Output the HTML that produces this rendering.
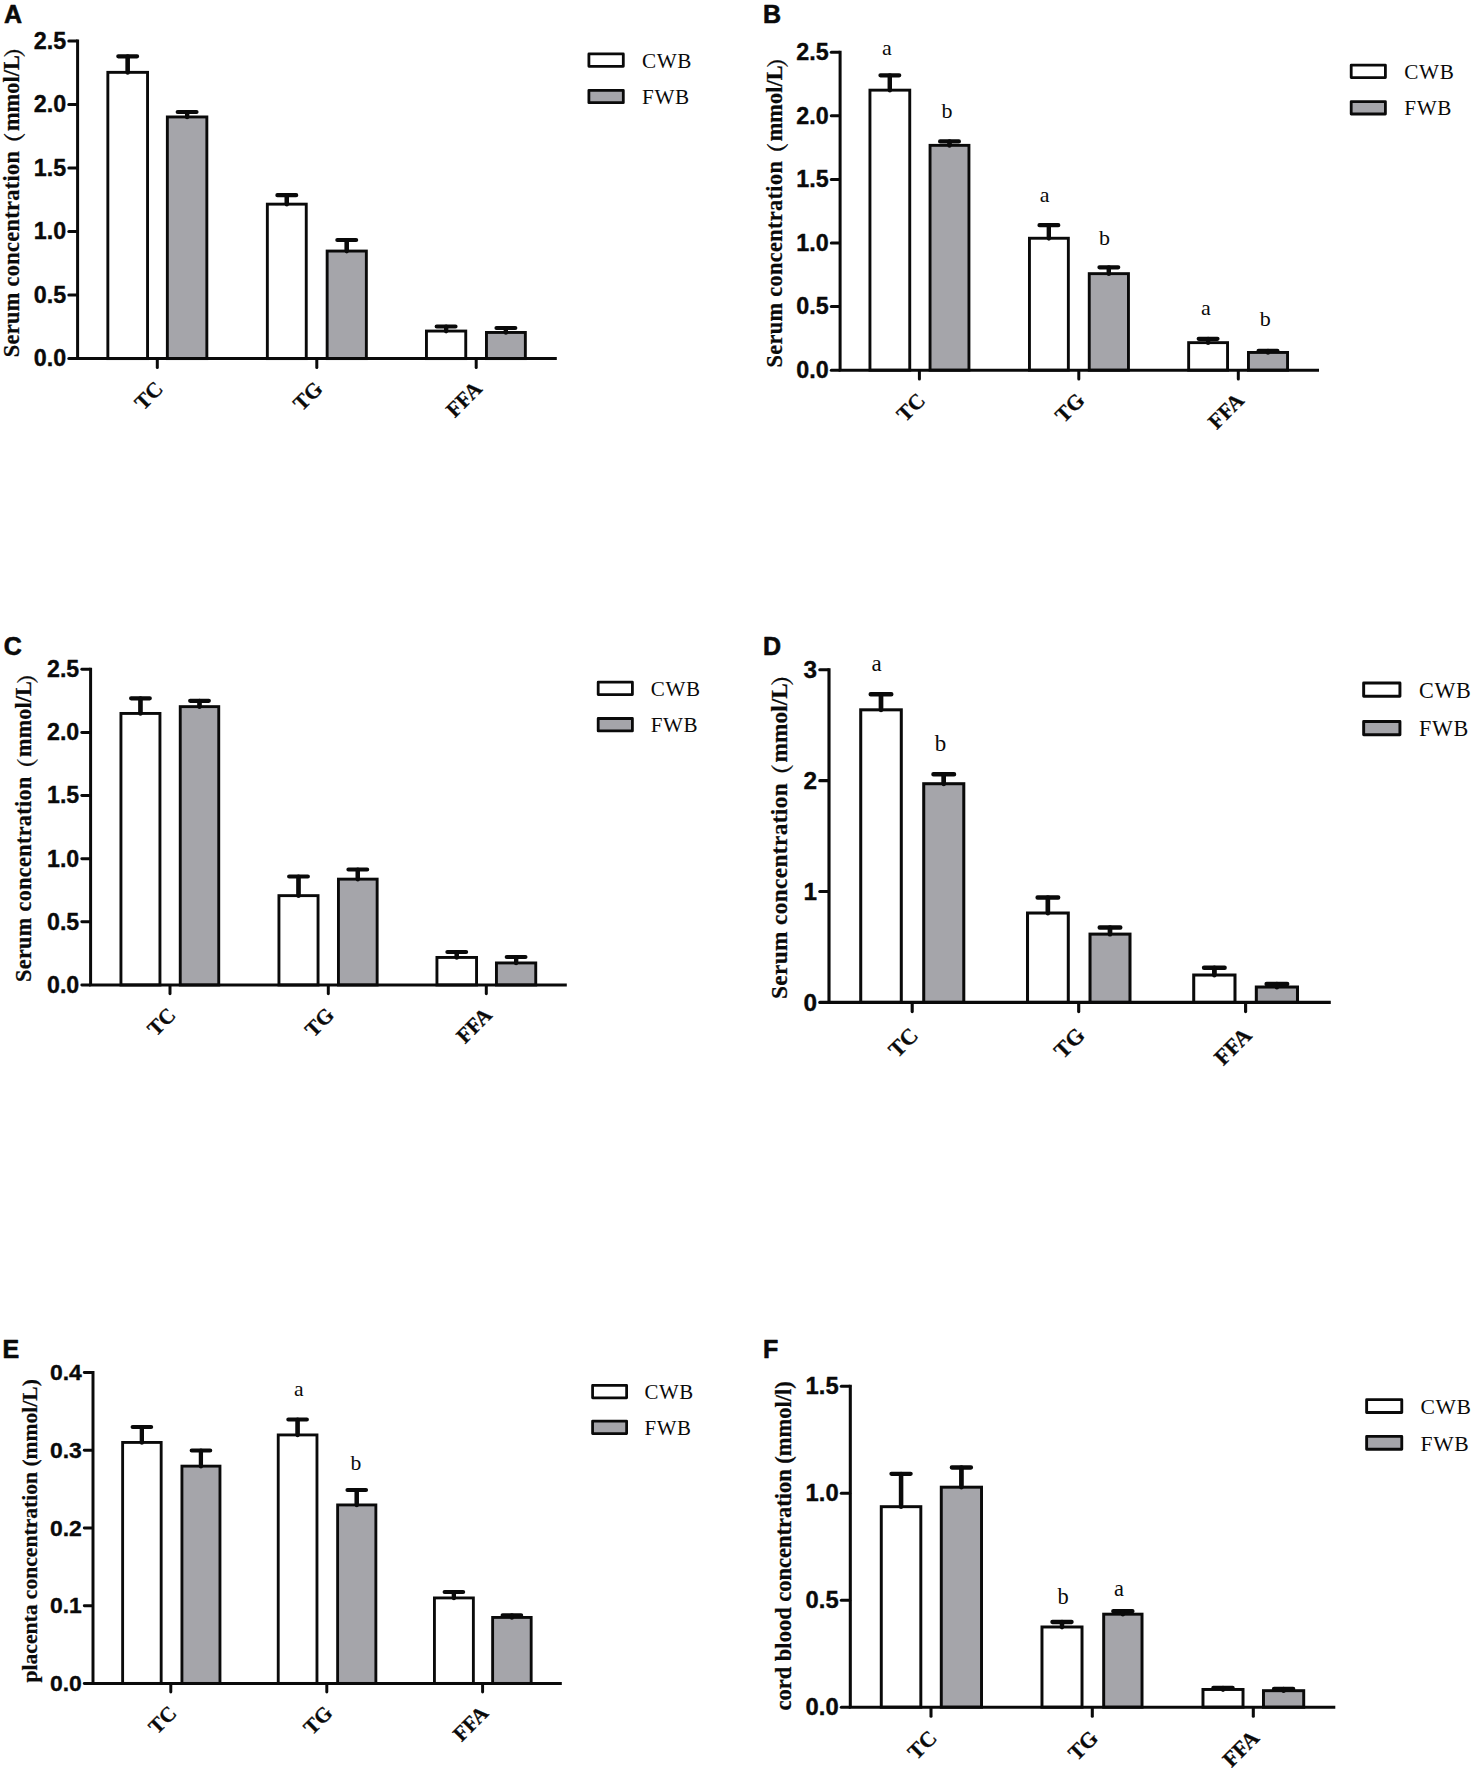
<!DOCTYPE html>
<html lang="en"><head><meta charset="utf-8"><title>Serum, placenta and cord blood lipid concentrations</title>
<style>html,body{margin:0;padding:0;background:#fff}body{width:1472px;height:1772px;overflow:hidden}svg{display:block}text{white-space:pre}</style>
</head><body>
<svg width="1472" height="1772" viewBox="0 0 1472 1772">
<rect x="0" y="0" width="1472" height="1772" fill="#ffffff"/>
<g>
<text x="4.1" y="22.8" font-family='"Liberation Sans", sans-serif' font-weight="700" font-size="25" fill="#0a0a0a" stroke="#0a0a0a" stroke-width="0.6" stroke-linejoin="round">A</text>
<path d="M127.7 70.9 V56.3 M118.3 56.3 H137.1" fill="none" stroke="#0a0a0a" stroke-width="4.2" stroke-linecap="round"/>
<rect x="107.85" y="72.35" width="39.7" height="286.25" fill="#ffffff" stroke="#0a0a0a" stroke-width="2.9"/>
<path d="M127.7 56.3 V72.64" fill="none" stroke="#0a0a0a" stroke-width="4.2" stroke-linecap="round"/>
<path d="M187.1 115.5 V112 M177.7 112 H196.5" fill="none" stroke="#0a0a0a" stroke-width="4.2" stroke-linecap="round"/>
<rect x="167.35" y="116.95" width="39.5" height="241.65" fill="#a5a5aa" stroke="#0a0a0a" stroke-width="2.9"/>
<path d="M187.1 112 V117.24" fill="none" stroke="#0a0a0a" stroke-width="4.2" stroke-linecap="round"/>
<path d="M286.8 202.7 V195.2 M277.4 195.2 H296.2" fill="none" stroke="#0a0a0a" stroke-width="4.2" stroke-linecap="round"/>
<rect x="267.35" y="204.15" width="38.9" height="154.45" fill="#ffffff" stroke="#0a0a0a" stroke-width="2.9"/>
<path d="M286.8 195.2 V204.44" fill="none" stroke="#0a0a0a" stroke-width="4.2" stroke-linecap="round"/>
<path d="M346.75 249.6 V240 M337.35 240 H356.15" fill="none" stroke="#0a0a0a" stroke-width="4.2" stroke-linecap="round"/>
<rect x="327.15" y="251.05" width="39.2" height="107.55" fill="#a5a5aa" stroke="#0a0a0a" stroke-width="2.9"/>
<path d="M346.75 240 V251.34" fill="none" stroke="#0a0a0a" stroke-width="4.2" stroke-linecap="round"/>
<path d="M446.1 329.6 V326.5 M436.7 326.5 H455.5" fill="none" stroke="#0a0a0a" stroke-width="4.2" stroke-linecap="round"/>
<rect x="426.45" y="331.05" width="39.3" height="27.55" fill="#ffffff" stroke="#0a0a0a" stroke-width="2.9"/>
<path d="M446.1 326.5 V331.34" fill="none" stroke="#0a0a0a" stroke-width="4.2" stroke-linecap="round"/>
<path d="M505.9 331 V328 M496.5 328 H515.3" fill="none" stroke="#0a0a0a" stroke-width="4.2" stroke-linecap="round"/>
<rect x="486.45" y="332.45" width="38.9" height="26.15" fill="#a5a5aa" stroke="#0a0a0a" stroke-width="2.9"/>
<path d="M505.9 328 V332.74" fill="none" stroke="#0a0a0a" stroke-width="4.2" stroke-linecap="round"/>
<path d="M77.6 39.5 V358.6 H556.8" fill="none" stroke="#0a0a0a" stroke-width="3" stroke-linejoin="miter" stroke-linecap="butt"/>
<path d="M68.8 41 H77" stroke="#0a0a0a" stroke-width="3" stroke-linecap="round"/>
<text x="66.2" y="48.89" text-anchor="end" font-family='"Liberation Sans", sans-serif' font-weight="700" font-size="23.3" fill="#0a0a0a" stroke="#0a0a0a" stroke-width="0.35" stroke-linejoin="round">2.5</text>
<path d="M68.8 104.52 H77" stroke="#0a0a0a" stroke-width="3" stroke-linecap="round"/>
<text x="66.2" y="112.41" text-anchor="end" font-family='"Liberation Sans", sans-serif' font-weight="700" font-size="23.3" fill="#0a0a0a" stroke="#0a0a0a" stroke-width="0.35" stroke-linejoin="round">2.0</text>
<path d="M68.8 168.04 H77" stroke="#0a0a0a" stroke-width="3" stroke-linecap="round"/>
<text x="66.2" y="175.93" text-anchor="end" font-family='"Liberation Sans", sans-serif' font-weight="700" font-size="23.3" fill="#0a0a0a" stroke="#0a0a0a" stroke-width="0.35" stroke-linejoin="round">1.5</text>
<path d="M68.8 231.56 H77" stroke="#0a0a0a" stroke-width="3" stroke-linecap="round"/>
<text x="66.2" y="239.45" text-anchor="end" font-family='"Liberation Sans", sans-serif' font-weight="700" font-size="23.3" fill="#0a0a0a" stroke="#0a0a0a" stroke-width="0.35" stroke-linejoin="round">1.0</text>
<path d="M68.8 295.08 H77" stroke="#0a0a0a" stroke-width="3" stroke-linecap="round"/>
<text x="66.2" y="302.97" text-anchor="end" font-family='"Liberation Sans", sans-serif' font-weight="700" font-size="23.3" fill="#0a0a0a" stroke="#0a0a0a" stroke-width="0.35" stroke-linejoin="round">0.5</text>
<path d="M68.8 358.6 H77" stroke="#0a0a0a" stroke-width="3" stroke-linecap="round"/>
<text x="66.2" y="366.49" text-anchor="end" font-family='"Liberation Sans", sans-serif' font-weight="700" font-size="23.3" fill="#0a0a0a" stroke="#0a0a0a" stroke-width="0.35" stroke-linejoin="round">0.0</text>
<path d="M157.3 359.2 V367.4" stroke="#0a0a0a" stroke-width="3" stroke-linecap="round"/>
<text transform="translate(164.3 390.1) rotate(-45)" text-anchor="end" font-family='"Liberation Serif", "Noto Serif CJK SC", serif' font-weight="700" font-size="21.5" fill="#0a0a0a" stroke="#0a0a0a" stroke-width="0.3" stroke-linejoin="round">TC</text>
<path d="M316.8 359.2 V367.4" stroke="#0a0a0a" stroke-width="3" stroke-linecap="round"/>
<text transform="translate(323.8 390.1) rotate(-45)" text-anchor="end" font-family='"Liberation Serif", "Noto Serif CJK SC", serif' font-weight="700" font-size="21.5" fill="#0a0a0a" stroke="#0a0a0a" stroke-width="0.3" stroke-linejoin="round">TG</text>
<path d="M476.2 359.2 V367.4" stroke="#0a0a0a" stroke-width="3" stroke-linecap="round"/>
<text transform="translate(483.2 390.1) rotate(-45)" text-anchor="end" font-family='"Liberation Serif", "Noto Serif CJK SC", serif' font-weight="700" font-size="21.5" fill="#0a0a0a" stroke="#0a0a0a" stroke-width="0.3" stroke-linejoin="round">FFA</text>
<text transform="translate(18.5 357.3) rotate(-90)" letter-spacing="0.35" font-family='"Liberation Serif", "Noto Serif CJK SC", serif' font-weight="700" font-size="22.3" fill="#0a0a0a" stroke="#0a0a0a" stroke-width="0.25" stroke-linejoin="round">Serum concentration<tspan font-family='"Liberation Serif", "Noto Serif CJK SC", serif' font-size="22" letter-spacing="0" dx="-3.8" dy="3.5">（</tspan><tspan letter-spacing="0.1" dx="1.3" dy="-3.5">mmol/L</tspan><tspan font-family='"Liberation Serif", "Noto Serif CJK SC", serif' font-size="22" letter-spacing="0" dx="-2.8" dy="3.5">）</tspan></text>
<rect x="588.9" y="53.9" width="34.4" height="12.4" fill="#ffffff" stroke="#0a0a0a" stroke-width="2.8" stroke-linejoin="round"/>
<text x="642" y="67.7" letter-spacing="0.6" font-family='"Liberation Serif", "Noto Serif CJK SC", serif' font-size="21.2" fill="#0a0a0a">CWB</text>
<rect x="588.9" y="90.3" width="34.4" height="12.4" fill="#a5a5aa" stroke="#0a0a0a" stroke-width="2.8" stroke-linejoin="round"/>
<text x="642" y="104.1" letter-spacing="0.6" font-family='"Liberation Serif", "Noto Serif CJK SC", serif' font-size="21.2" fill="#0a0a0a">FWB</text>
</g>
<g>
<text x="763" y="22.8" font-family='"Liberation Sans", sans-serif' font-weight="700" font-size="25" fill="#0a0a0a" stroke="#0a0a0a" stroke-width="0.6" stroke-linejoin="round">B</text>
<path d="M889.85 88.7 V75.3 M880.45 75.3 H899.25" fill="none" stroke="#0a0a0a" stroke-width="4.2" stroke-linecap="round"/>
<rect x="869.95" y="90.15" width="39.8" height="280.05" fill="#ffffff" stroke="#0a0a0a" stroke-width="2.9"/>
<path d="M889.85 75.3 V90.44" fill="none" stroke="#0a0a0a" stroke-width="4.2" stroke-linecap="round"/>
<path d="M949.5 143.9 V141.4 M940.1 141.4 H958.9" fill="none" stroke="#0a0a0a" stroke-width="4.2" stroke-linecap="round"/>
<rect x="930.05" y="145.35" width="38.9" height="224.85" fill="#a5a5aa" stroke="#0a0a0a" stroke-width="2.9"/>
<path d="M949.5 141.4 V145.64" fill="none" stroke="#0a0a0a" stroke-width="4.2" stroke-linecap="round"/>
<path d="M1048.9 236.8 V225.2 M1039.5 225.2 H1058.3" fill="none" stroke="#0a0a0a" stroke-width="4.2" stroke-linecap="round"/>
<rect x="1029.45" y="238.25" width="38.9" height="131.95" fill="#ffffff" stroke="#0a0a0a" stroke-width="2.9"/>
<path d="M1048.9 225.2 V238.54" fill="none" stroke="#0a0a0a" stroke-width="4.2" stroke-linecap="round"/>
<path d="M1108.85 272.2 V267.3 M1099.45 267.3 H1118.25" fill="none" stroke="#0a0a0a" stroke-width="4.2" stroke-linecap="round"/>
<rect x="1089.25" y="273.65" width="39.2" height="96.55" fill="#a5a5aa" stroke="#0a0a0a" stroke-width="2.9"/>
<path d="M1108.85 267.3 V273.94" fill="none" stroke="#0a0a0a" stroke-width="4.2" stroke-linecap="round"/>
<path d="M1208.1 341.2 V338.8 M1198.7 338.8 H1217.5" fill="none" stroke="#0a0a0a" stroke-width="4.2" stroke-linecap="round"/>
<rect x="1188.65" y="342.65" width="38.9" height="27.55" fill="#ffffff" stroke="#0a0a0a" stroke-width="2.9"/>
<path d="M1208.1 338.8 V342.94" fill="none" stroke="#0a0a0a" stroke-width="4.2" stroke-linecap="round"/>
<path d="M1268 351 V350.8 M1258.6 350.8 H1277.4" fill="none" stroke="#0a0a0a" stroke-width="4.2" stroke-linecap="round"/>
<rect x="1248.45" y="352.45" width="39.1" height="17.75" fill="#a5a5aa" stroke="#0a0a0a" stroke-width="2.9"/>
<path d="M1268 350.8 V352.74" fill="none" stroke="#0a0a0a" stroke-width="4.2" stroke-linecap="round"/>
<path d="M840.1 50.7 V370.2 H1319" fill="none" stroke="#0a0a0a" stroke-width="3" stroke-linejoin="miter" stroke-linecap="butt"/>
<path d="M831.3 52.2 H839.5" stroke="#0a0a0a" stroke-width="3" stroke-linecap="round"/>
<text x="828.7" y="60.09" text-anchor="end" font-family='"Liberation Sans", sans-serif' font-weight="700" font-size="23.3" fill="#0a0a0a" stroke="#0a0a0a" stroke-width="0.35" stroke-linejoin="round">2.5</text>
<path d="M831.3 115.8 H839.5" stroke="#0a0a0a" stroke-width="3" stroke-linecap="round"/>
<text x="828.7" y="123.69" text-anchor="end" font-family='"Liberation Sans", sans-serif' font-weight="700" font-size="23.3" fill="#0a0a0a" stroke="#0a0a0a" stroke-width="0.35" stroke-linejoin="round">2.0</text>
<path d="M831.3 179.4 H839.5" stroke="#0a0a0a" stroke-width="3" stroke-linecap="round"/>
<text x="828.7" y="187.29" text-anchor="end" font-family='"Liberation Sans", sans-serif' font-weight="700" font-size="23.3" fill="#0a0a0a" stroke="#0a0a0a" stroke-width="0.35" stroke-linejoin="round">1.5</text>
<path d="M831.3 243 H839.5" stroke="#0a0a0a" stroke-width="3" stroke-linecap="round"/>
<text x="828.7" y="250.89" text-anchor="end" font-family='"Liberation Sans", sans-serif' font-weight="700" font-size="23.3" fill="#0a0a0a" stroke="#0a0a0a" stroke-width="0.35" stroke-linejoin="round">1.0</text>
<path d="M831.3 306.6 H839.5" stroke="#0a0a0a" stroke-width="3" stroke-linecap="round"/>
<text x="828.7" y="314.49" text-anchor="end" font-family='"Liberation Sans", sans-serif' font-weight="700" font-size="23.3" fill="#0a0a0a" stroke="#0a0a0a" stroke-width="0.35" stroke-linejoin="round">0.5</text>
<path d="M831.3 370.2 H839.5" stroke="#0a0a0a" stroke-width="3" stroke-linecap="round"/>
<text x="828.7" y="378.09" text-anchor="end" font-family='"Liberation Sans", sans-serif' font-weight="700" font-size="23.3" fill="#0a0a0a" stroke="#0a0a0a" stroke-width="0.35" stroke-linejoin="round">0.0</text>
<path d="M919.4 370.8 V379" stroke="#0a0a0a" stroke-width="3" stroke-linecap="round"/>
<text transform="translate(926.4 401.7) rotate(-45)" text-anchor="end" font-family='"Liberation Serif", "Noto Serif CJK SC", serif' font-weight="700" font-size="21.5" fill="#0a0a0a" stroke="#0a0a0a" stroke-width="0.3" stroke-linejoin="round">TC</text>
<path d="M1078.8 370.8 V379" stroke="#0a0a0a" stroke-width="3" stroke-linecap="round"/>
<text transform="translate(1085.8 401.7) rotate(-45)" text-anchor="end" font-family='"Liberation Serif", "Noto Serif CJK SC", serif' font-weight="700" font-size="21.5" fill="#0a0a0a" stroke="#0a0a0a" stroke-width="0.3" stroke-linejoin="round">TG</text>
<path d="M1238.3 370.8 V379" stroke="#0a0a0a" stroke-width="3" stroke-linecap="round"/>
<text transform="translate(1245.3 401.7) rotate(-45)" text-anchor="end" font-family='"Liberation Serif", "Noto Serif CJK SC", serif' font-weight="700" font-size="21.5" fill="#0a0a0a" stroke="#0a0a0a" stroke-width="0.3" stroke-linejoin="round">FFA</text>
<text transform="translate(781.5 367.5) rotate(-90)" letter-spacing="0.35" font-family='"Liberation Serif", "Noto Serif CJK SC", serif' font-weight="700" font-size="22.3" fill="#0a0a0a" stroke="#0a0a0a" stroke-width="0.25" stroke-linejoin="round">Serum concentration<tspan font-family='"Liberation Serif", "Noto Serif CJK SC", serif' font-size="22" letter-spacing="0" dx="-3.8" dy="3.5">（</tspan><tspan letter-spacing="0.1" dx="1.3" dy="-3.5">mmol/L</tspan><tspan font-family='"Liberation Serif", "Noto Serif CJK SC", serif' font-size="22" letter-spacing="0" dx="-2.8" dy="3.5">）</tspan></text>
<text x="886.9" y="54.8" text-anchor="middle" font-family='"Liberation Serif", "Noto Serif CJK SC", serif' font-size="22" fill="#0a0a0a">a</text>
<text x="947" y="118.3" text-anchor="middle" font-family='"Liberation Serif", "Noto Serif CJK SC", serif' font-size="22" fill="#0a0a0a">b</text>
<text x="1044.7" y="202" text-anchor="middle" font-family='"Liberation Serif", "Noto Serif CJK SC", serif' font-size="22" fill="#0a0a0a">a</text>
<text x="1104.4" y="245" text-anchor="middle" font-family='"Liberation Serif", "Noto Serif CJK SC", serif' font-size="22" fill="#0a0a0a">b</text>
<text x="1205.8" y="315" text-anchor="middle" font-family='"Liberation Serif", "Noto Serif CJK SC", serif' font-size="22" fill="#0a0a0a">a</text>
<text x="1265.3" y="325.8" text-anchor="middle" font-family='"Liberation Serif", "Noto Serif CJK SC", serif' font-size="22" fill="#0a0a0a">b</text>
<rect x="1351.2" y="65.2" width="34.2" height="12.4" fill="#ffffff" stroke="#0a0a0a" stroke-width="2.8" stroke-linejoin="round"/>
<text x="1404.3" y="79" letter-spacing="0.6" font-family='"Liberation Serif", "Noto Serif CJK SC", serif' font-size="21.2" fill="#0a0a0a">CWB</text>
<rect x="1351.2" y="101.6" width="34.2" height="12.4" fill="#a5a5aa" stroke="#0a0a0a" stroke-width="2.8" stroke-linejoin="round"/>
<text x="1404.3" y="115.4" letter-spacing="0.6" font-family='"Liberation Serif", "Noto Serif CJK SC", serif' font-size="21.2" fill="#0a0a0a">FWB</text>
</g>
<g>
<text x="3.8" y="655.3" font-family='"Liberation Sans", sans-serif' font-weight="700" font-size="25" fill="#0a0a0a" stroke="#0a0a0a" stroke-width="0.6" stroke-linejoin="round">C</text>
<path d="M140.45 712 V698.3 M131.1 698.3 H149.8" fill="none" stroke="#0a0a0a" stroke-width="4.18" stroke-linecap="round"/>
<rect x="120.94" y="713.44" width="39.01" height="271.56" fill="#ffffff" stroke="#0a0a0a" stroke-width="2.89"/>
<path d="M140.45 698.3 V713.73" fill="none" stroke="#0a0a0a" stroke-width="4.18" stroke-linecap="round"/>
<path d="M199.5 705.2 V700.8 M190.15 700.8 H208.85" fill="none" stroke="#0a0a0a" stroke-width="4.18" stroke-linecap="round"/>
<rect x="180.24" y="706.64" width="38.51" height="278.36" fill="#a5a5aa" stroke="#0a0a0a" stroke-width="2.89"/>
<path d="M199.5 700.8 V706.93" fill="none" stroke="#0a0a0a" stroke-width="4.18" stroke-linecap="round"/>
<path d="M298.5 894.2 V876.5 M289.15 876.5 H307.85" fill="none" stroke="#0a0a0a" stroke-width="4.18" stroke-linecap="round"/>
<rect x="278.94" y="895.64" width="39.11" height="89.36" fill="#ffffff" stroke="#0a0a0a" stroke-width="2.89"/>
<path d="M298.5 876.5 V895.93" fill="none" stroke="#0a0a0a" stroke-width="4.18" stroke-linecap="round"/>
<path d="M357.8 877.7 V869.5 M348.45 869.5 H367.15" fill="none" stroke="#0a0a0a" stroke-width="4.18" stroke-linecap="round"/>
<rect x="338.44" y="879.14" width="38.71" height="105.86" fill="#a5a5aa" stroke="#0a0a0a" stroke-width="2.89"/>
<path d="M357.8 869.5 V879.43" fill="none" stroke="#0a0a0a" stroke-width="4.18" stroke-linecap="round"/>
<path d="M456.75 956 V952 M447.4 952 H466.1" fill="none" stroke="#0a0a0a" stroke-width="4.18" stroke-linecap="round"/>
<rect x="436.94" y="957.44" width="39.61" height="27.56" fill="#ffffff" stroke="#0a0a0a" stroke-width="2.89"/>
<path d="M456.75 952 V957.73" fill="none" stroke="#0a0a0a" stroke-width="4.18" stroke-linecap="round"/>
<path d="M516.1 961.5 V957 M506.75 957 H525.45" fill="none" stroke="#0a0a0a" stroke-width="4.18" stroke-linecap="round"/>
<rect x="496.44" y="962.94" width="39.31" height="22.06" fill="#a5a5aa" stroke="#0a0a0a" stroke-width="2.89"/>
<path d="M516.1 957 V963.23" fill="none" stroke="#0a0a0a" stroke-width="4.18" stroke-linecap="round"/>
<path d="M90.6 667.81 V985 H566.8" fill="none" stroke="#0a0a0a" stroke-width="2.98" stroke-linejoin="miter" stroke-linecap="butt"/>
<path d="M81.84 669.3 H90" stroke="#0a0a0a" stroke-width="2.98" stroke-linecap="round"/>
<text x="79.26" y="677.15" text-anchor="end" font-family='"Liberation Sans", sans-serif' font-weight="700" font-size="23.18" fill="#0a0a0a" stroke="#0a0a0a" stroke-width="0.35" stroke-linejoin="round">2.5</text>
<path d="M81.84 732.44 H90" stroke="#0a0a0a" stroke-width="2.98" stroke-linecap="round"/>
<text x="79.26" y="740.29" text-anchor="end" font-family='"Liberation Sans", sans-serif' font-weight="700" font-size="23.18" fill="#0a0a0a" stroke="#0a0a0a" stroke-width="0.35" stroke-linejoin="round">2.0</text>
<path d="M81.84 795.58 H90" stroke="#0a0a0a" stroke-width="2.98" stroke-linecap="round"/>
<text x="79.26" y="803.43" text-anchor="end" font-family='"Liberation Sans", sans-serif' font-weight="700" font-size="23.18" fill="#0a0a0a" stroke="#0a0a0a" stroke-width="0.35" stroke-linejoin="round">1.5</text>
<path d="M81.84 858.72 H90" stroke="#0a0a0a" stroke-width="2.98" stroke-linecap="round"/>
<text x="79.26" y="866.57" text-anchor="end" font-family='"Liberation Sans", sans-serif' font-weight="700" font-size="23.18" fill="#0a0a0a" stroke="#0a0a0a" stroke-width="0.35" stroke-linejoin="round">1.0</text>
<path d="M81.84 921.86 H90" stroke="#0a0a0a" stroke-width="2.98" stroke-linecap="round"/>
<text x="79.26" y="929.71" text-anchor="end" font-family='"Liberation Sans", sans-serif' font-weight="700" font-size="23.18" fill="#0a0a0a" stroke="#0a0a0a" stroke-width="0.35" stroke-linejoin="round">0.5</text>
<path d="M81.84 985 H90" stroke="#0a0a0a" stroke-width="2.98" stroke-linecap="round"/>
<text x="79.26" y="992.85" text-anchor="end" font-family='"Liberation Sans", sans-serif' font-weight="700" font-size="23.18" fill="#0a0a0a" stroke="#0a0a0a" stroke-width="0.35" stroke-linejoin="round">0.0</text>
<path d="M170 985.6 V993.76" stroke="#0a0a0a" stroke-width="2.98" stroke-linecap="round"/>
<text transform="translate(176.97 1016.34) rotate(-45)" text-anchor="end" font-family='"Liberation Serif", "Noto Serif CJK SC", serif' font-weight="700" font-size="21.39" fill="#0a0a0a" stroke="#0a0a0a" stroke-width="0.3" stroke-linejoin="round">TC</text>
<path d="M328.3 985.6 V993.76" stroke="#0a0a0a" stroke-width="2.98" stroke-linecap="round"/>
<text transform="translate(335.26 1016.34) rotate(-45)" text-anchor="end" font-family='"Liberation Serif", "Noto Serif CJK SC", serif' font-weight="700" font-size="21.39" fill="#0a0a0a" stroke="#0a0a0a" stroke-width="0.3" stroke-linejoin="round">TG</text>
<path d="M486.3 985.6 V993.76" stroke="#0a0a0a" stroke-width="2.98" stroke-linecap="round"/>
<text transform="translate(493.26 1016.34) rotate(-45)" text-anchor="end" font-family='"Liberation Serif", "Noto Serif CJK SC", serif' font-weight="700" font-size="21.39" fill="#0a0a0a" stroke="#0a0a0a" stroke-width="0.3" stroke-linejoin="round">FFA</text>
<text transform="translate(31.3 982) rotate(-90)" letter-spacing="0.35" font-family='"Liberation Serif", "Noto Serif CJK SC", serif' font-weight="700" font-size="22.19" fill="#0a0a0a" stroke="#0a0a0a" stroke-width="0.25" stroke-linejoin="round">Serum concentration<tspan font-family='"Liberation Serif", "Noto Serif CJK SC", serif' font-size="21.89" letter-spacing="0" dx="-3.78" dy="3.48">（</tspan><tspan letter-spacing="0.1" dx="1.29" dy="-3.48">mmol/L</tspan><tspan font-family='"Liberation Serif", "Noto Serif CJK SC", serif' font-size="21.89" letter-spacing="0" dx="-2.79" dy="3.48">）</tspan></text>
<rect x="598.19" y="682.19" width="34.21" height="12.41" fill="#ffffff" stroke="#0a0a0a" stroke-width="2.79" stroke-linejoin="round"/>
<text x="650.8" y="696" letter-spacing="0.6" font-family='"Liberation Serif", "Noto Serif CJK SC", serif' font-size="21.09" fill="#0a0a0a">CWB</text>
<rect x="598.19" y="718.49" width="34.21" height="12.41" fill="#a5a5aa" stroke="#0a0a0a" stroke-width="2.79" stroke-linejoin="round"/>
<text x="650.8" y="732.3" letter-spacing="0.6" font-family='"Liberation Serif", "Noto Serif CJK SC", serif' font-size="21.09" fill="#0a0a0a">FWB</text>
</g>
<g>
<text x="763" y="655.3" font-family='"Liberation Sans", sans-serif' font-weight="700" font-size="25" fill="#0a0a0a" stroke="#0a0a0a" stroke-width="0.6" stroke-linejoin="round">D</text>
<path d="M881 708.3 V694.3 M870.69 694.3 H891.31" fill="none" stroke="#0a0a0a" stroke-width="4.39" stroke-linecap="round"/>
<rect x="860.72" y="709.82" width="40.57" height="292.58" fill="#ffffff" stroke="#0a0a0a" stroke-width="3.03"/>
<path d="M881 694.3 V710.12" fill="none" stroke="#0a0a0a" stroke-width="4.39" stroke-linecap="round"/>
<path d="M943.75 782.2 V774.3 M933.44 774.3 H954.06" fill="none" stroke="#0a0a0a" stroke-width="4.39" stroke-linecap="round"/>
<rect x="923.72" y="783.72" width="40.07" height="218.68" fill="#a5a5aa" stroke="#0a0a0a" stroke-width="3.03"/>
<path d="M943.75 774.3 V784.02" fill="none" stroke="#0a0a0a" stroke-width="4.39" stroke-linecap="round"/>
<path d="M1047.9 911.5 V897.5 M1037.59 897.5 H1058.21" fill="none" stroke="#0a0a0a" stroke-width="4.39" stroke-linecap="round"/>
<rect x="1027.52" y="913.02" width="40.77" height="89.38" fill="#ffffff" stroke="#0a0a0a" stroke-width="3.03"/>
<path d="M1047.9 897.5 V913.32" fill="none" stroke="#0a0a0a" stroke-width="4.39" stroke-linecap="round"/>
<path d="M1110 932.6 V927.5 M1099.69 927.5 H1120.31" fill="none" stroke="#0a0a0a" stroke-width="4.39" stroke-linecap="round"/>
<rect x="1090.02" y="934.12" width="39.97" height="68.28" fill="#a5a5aa" stroke="#0a0a0a" stroke-width="3.03"/>
<path d="M1110 927.5 V934.42" fill="none" stroke="#0a0a0a" stroke-width="4.39" stroke-linecap="round"/>
<path d="M1214.35 973.5 V967.8 M1204.04 967.8 H1224.66" fill="none" stroke="#0a0a0a" stroke-width="4.39" stroke-linecap="round"/>
<rect x="1193.72" y="975.02" width="41.27" height="27.38" fill="#ffffff" stroke="#0a0a0a" stroke-width="3.03"/>
<path d="M1214.35 967.8 V975.32" fill="none" stroke="#0a0a0a" stroke-width="4.39" stroke-linecap="round"/>
<path d="M1276.9 985.5 V984 M1266.59 984 H1287.21" fill="none" stroke="#0a0a0a" stroke-width="4.39" stroke-linecap="round"/>
<rect x="1256.32" y="987.02" width="41.17" height="15.38" fill="#a5a5aa" stroke="#0a0a0a" stroke-width="3.03"/>
<path d="M1276.9 984 V987.32" fill="none" stroke="#0a0a0a" stroke-width="4.39" stroke-linecap="round"/>
<path d="M829 668.23 V1002.4 H1330.8" fill="none" stroke="#0a0a0a" stroke-width="3.13" stroke-linejoin="miter" stroke-linecap="butt"/>
<path d="M819.8 669.8 H828.4" stroke="#0a0a0a" stroke-width="3.13" stroke-linecap="round"/>
<text x="817.09" y="678.07" text-anchor="end" font-family='"Liberation Sans", sans-serif' font-weight="700" font-size="24.35" fill="#0a0a0a" stroke="#0a0a0a" stroke-width="0.35" stroke-linejoin="round">3</text>
<path d="M819.8 780.67 H828.4" stroke="#0a0a0a" stroke-width="3.13" stroke-linecap="round"/>
<text x="817.09" y="788.93" text-anchor="end" font-family='"Liberation Sans", sans-serif' font-weight="700" font-size="24.35" fill="#0a0a0a" stroke="#0a0a0a" stroke-width="0.35" stroke-linejoin="round">2</text>
<path d="M819.8 891.53 H828.4" stroke="#0a0a0a" stroke-width="3.13" stroke-linecap="round"/>
<text x="817.09" y="899.8" text-anchor="end" font-family='"Liberation Sans", sans-serif' font-weight="700" font-size="24.35" fill="#0a0a0a" stroke="#0a0a0a" stroke-width="0.35" stroke-linejoin="round">1</text>
<path d="M819.8 1002.4 H828.4" stroke="#0a0a0a" stroke-width="3.13" stroke-linecap="round"/>
<text x="817.09" y="1010.67" text-anchor="end" font-family='"Liberation Sans", sans-serif' font-weight="700" font-size="24.35" fill="#0a0a0a" stroke="#0a0a0a" stroke-width="0.35" stroke-linejoin="round">0</text>
<path d="M912.2 1003 V1011.6" stroke="#0a0a0a" stroke-width="3.13" stroke-linecap="round"/>
<text transform="translate(919.52 1036.7) rotate(-45)" text-anchor="end" font-family='"Liberation Serif", "Noto Serif CJK SC", serif' font-weight="700" font-size="22.47" fill="#0a0a0a" stroke="#0a0a0a" stroke-width="0.3" stroke-linejoin="round">TC</text>
<path d="M1078.7 1003 V1011.6" stroke="#0a0a0a" stroke-width="3.13" stroke-linecap="round"/>
<text transform="translate(1086.02 1036.7) rotate(-45)" text-anchor="end" font-family='"Liberation Serif", "Noto Serif CJK SC", serif' font-weight="700" font-size="22.47" fill="#0a0a0a" stroke="#0a0a0a" stroke-width="0.3" stroke-linejoin="round">TG</text>
<path d="M1245.6 1003 V1011.6" stroke="#0a0a0a" stroke-width="3.13" stroke-linecap="round"/>
<text transform="translate(1252.91 1036.7) rotate(-45)" text-anchor="end" font-family='"Liberation Serif", "Noto Serif CJK SC", serif' font-weight="700" font-size="22.47" fill="#0a0a0a" stroke="#0a0a0a" stroke-width="0.3" stroke-linejoin="round">FFA</text>
<text transform="translate(787.1 999) rotate(-90)" letter-spacing="0.37" font-family='"Liberation Serif", "Noto Serif CJK SC", serif' font-weight="700" font-size="23.3" fill="#0a0a0a" stroke="#0a0a0a" stroke-width="0.25" stroke-linejoin="round">Serum concentration<tspan font-family='"Liberation Serif", "Noto Serif CJK SC", serif' font-size="22.99" letter-spacing="0" dx="-3.97" dy="3.66">（</tspan><tspan letter-spacing="0.1" dx="1.36" dy="-3.66">mmol/L</tspan><tspan font-family='"Liberation Serif", "Noto Serif CJK SC", serif' font-size="22.99" letter-spacing="0" dx="-2.93" dy="3.66">）</tspan></text>
<text x="876.5" y="670.8" text-anchor="middle" font-family='"Liberation Serif", "Noto Serif CJK SC", serif' font-size="22.99" fill="#0a0a0a">a</text>
<text x="940.5" y="750.5" text-anchor="middle" font-family='"Liberation Serif", "Noto Serif CJK SC", serif' font-size="22.99" fill="#0a0a0a">b</text>
<rect x="1363.66" y="682.96" width="36.27" height="13.27" fill="#ffffff" stroke="#0a0a0a" stroke-width="2.93" stroke-linejoin="round"/>
<text x="1419" y="697.7" letter-spacing="0.63" font-family='"Liberation Serif", "Noto Serif CJK SC", serif' font-size="22.15" fill="#0a0a0a">CWB</text>
<rect x="1363.66" y="721.46" width="36.27" height="13.27" fill="#a5a5aa" stroke="#0a0a0a" stroke-width="2.93" stroke-linejoin="round"/>
<text x="1419" y="736.2" letter-spacing="0.63" font-family='"Liberation Serif", "Noto Serif CJK SC", serif' font-size="22.15" fill="#0a0a0a">FWB</text>
</g>
<g>
<text x="2.5" y="1358.3" font-family='"Liberation Sans", sans-serif' font-weight="700" font-size="25" fill="#0a0a0a" stroke="#0a0a0a" stroke-width="0.6" stroke-linejoin="round">E</text>
<path d="M141.9 1441 V1427 M132.64 1427 H151.16" fill="none" stroke="#0a0a0a" stroke-width="4.14" stroke-linecap="round"/>
<rect x="122.63" y="1442.43" width="38.54" height="240.97" fill="#ffffff" stroke="#0a0a0a" stroke-width="2.86"/>
<path d="M141.9 1427 V1442.71" fill="none" stroke="#0a0a0a" stroke-width="4.14" stroke-linecap="round"/>
<path d="M200.95 1464.7 V1450.5 M191.69 1450.5 H210.21" fill="none" stroke="#0a0a0a" stroke-width="4.14" stroke-linecap="round"/>
<rect x="181.93" y="1466.13" width="38.04" height="217.27" fill="#a5a5aa" stroke="#0a0a0a" stroke-width="2.86"/>
<path d="M200.95 1450.5 V1466.41" fill="none" stroke="#0a0a0a" stroke-width="4.14" stroke-linecap="round"/>
<path d="M297.6 1433.5 V1419.5 M288.34 1419.5 H306.86" fill="none" stroke="#0a0a0a" stroke-width="4.14" stroke-linecap="round"/>
<rect x="278.23" y="1434.93" width="38.74" height="248.47" fill="#ffffff" stroke="#0a0a0a" stroke-width="2.86"/>
<path d="M297.6 1419.5 V1435.21" fill="none" stroke="#0a0a0a" stroke-width="4.14" stroke-linecap="round"/>
<path d="M356.75 1503.5 V1490 M347.49 1490 H366.01" fill="none" stroke="#0a0a0a" stroke-width="4.14" stroke-linecap="round"/>
<rect x="337.63" y="1504.93" width="38.24" height="178.47" fill="#a5a5aa" stroke="#0a0a0a" stroke-width="2.86"/>
<path d="M356.75 1490 V1505.21" fill="none" stroke="#0a0a0a" stroke-width="4.14" stroke-linecap="round"/>
<path d="M453.9 1596.5 V1592 M444.64 1592 H463.16" fill="none" stroke="#0a0a0a" stroke-width="4.14" stroke-linecap="round"/>
<rect x="434.43" y="1597.93" width="38.94" height="85.47" fill="#ffffff" stroke="#0a0a0a" stroke-width="2.86"/>
<path d="M453.9 1592 V1598.21" fill="none" stroke="#0a0a0a" stroke-width="4.14" stroke-linecap="round"/>
<path d="M511.9 1616 V1615.2 M502.64 1615.2 H521.16" fill="none" stroke="#0a0a0a" stroke-width="4.14" stroke-linecap="round"/>
<rect x="492.63" y="1617.43" width="38.54" height="65.97" fill="#a5a5aa" stroke="#0a0a0a" stroke-width="2.86"/>
<path d="M511.9 1615.2 V1617.71" fill="none" stroke="#0a0a0a" stroke-width="4.14" stroke-linecap="round"/>
<path d="M93 1371.12 V1683.4 H561.8" fill="none" stroke="#0a0a0a" stroke-width="2.96" stroke-linejoin="miter" stroke-linecap="butt"/>
<path d="M84.33 1372.6 H92.4" stroke="#0a0a0a" stroke-width="2.96" stroke-linecap="round"/>
<text x="81.77" y="1380.37" text-anchor="end" font-family='"Liberation Sans", sans-serif' font-weight="700" font-size="22.95" fill="#0a0a0a" stroke="#0a0a0a" stroke-width="0.35" stroke-linejoin="round">0.4</text>
<path d="M84.33 1450.3 H92.4" stroke="#0a0a0a" stroke-width="2.96" stroke-linecap="round"/>
<text x="81.77" y="1458.07" text-anchor="end" font-family='"Liberation Sans", sans-serif' font-weight="700" font-size="22.95" fill="#0a0a0a" stroke="#0a0a0a" stroke-width="0.35" stroke-linejoin="round">0.3</text>
<path d="M84.33 1528 H92.4" stroke="#0a0a0a" stroke-width="2.96" stroke-linecap="round"/>
<text x="81.77" y="1535.77" text-anchor="end" font-family='"Liberation Sans", sans-serif' font-weight="700" font-size="22.95" fill="#0a0a0a" stroke="#0a0a0a" stroke-width="0.35" stroke-linejoin="round">0.2</text>
<path d="M84.33 1605.7 H92.4" stroke="#0a0a0a" stroke-width="2.96" stroke-linecap="round"/>
<text x="81.77" y="1613.47" text-anchor="end" font-family='"Liberation Sans", sans-serif' font-weight="700" font-size="22.95" fill="#0a0a0a" stroke="#0a0a0a" stroke-width="0.35" stroke-linejoin="round">0.1</text>
<path d="M84.33 1683.4 H92.4" stroke="#0a0a0a" stroke-width="2.96" stroke-linecap="round"/>
<text x="81.77" y="1691.17" text-anchor="end" font-family='"Liberation Sans", sans-serif' font-weight="700" font-size="22.95" fill="#0a0a0a" stroke="#0a0a0a" stroke-width="0.35" stroke-linejoin="round">0.0</text>
<path d="M170.8 1684 V1692.07" stroke="#0a0a0a" stroke-width="2.96" stroke-linecap="round"/>
<text transform="translate(177.7 1714.43) rotate(-45)" text-anchor="end" font-family='"Liberation Serif", "Noto Serif CJK SC", serif' font-weight="700" font-size="21.18" fill="#0a0a0a" stroke="#0a0a0a" stroke-width="0.3" stroke-linejoin="round">TC</text>
<path d="M326.8 1684 V1692.07" stroke="#0a0a0a" stroke-width="2.96" stroke-linecap="round"/>
<text transform="translate(333.69 1714.43) rotate(-45)" text-anchor="end" font-family='"Liberation Serif", "Noto Serif CJK SC", serif' font-weight="700" font-size="21.18" fill="#0a0a0a" stroke="#0a0a0a" stroke-width="0.3" stroke-linejoin="round">TG</text>
<path d="M482.6 1684 V1692.07" stroke="#0a0a0a" stroke-width="2.96" stroke-linecap="round"/>
<text transform="translate(489.5 1714.43) rotate(-45)" text-anchor="end" font-family='"Liberation Serif", "Noto Serif CJK SC", serif' font-weight="700" font-size="21.18" fill="#0a0a0a" stroke="#0a0a0a" stroke-width="0.3" stroke-linejoin="round">FFA</text>
<text transform="translate(37.4 1682.5) rotate(-90)" letter-spacing="0" font-family='"Liberation Serif", "Noto Serif CJK SC", serif' font-weight="700" font-size="21.6" fill="#0a0a0a" stroke="#0a0a0a" stroke-width="0.25" stroke-linejoin="round">placenta concentration (mmol/L)</text>
<text x="298.8" y="1396.3" text-anchor="middle" font-family='"Liberation Serif", "Noto Serif CJK SC", serif' font-size="21.67" fill="#0a0a0a">a</text>
<text x="355.8" y="1469.5" text-anchor="middle" font-family='"Liberation Serif", "Noto Serif CJK SC", serif' font-size="21.67" fill="#0a0a0a">b</text>
<rect x="592.58" y="1385.38" width="34.04" height="12.44" fill="#ffffff" stroke="#0a0a0a" stroke-width="2.76" stroke-linejoin="round"/>
<text x="644.5" y="1399.2" letter-spacing="0.59" font-family='"Liberation Serif", "Noto Serif CJK SC", serif' font-size="20.88" fill="#0a0a0a">CWB</text>
<rect x="592.58" y="1421.08" width="34.04" height="12.44" fill="#a5a5aa" stroke="#0a0a0a" stroke-width="2.76" stroke-linejoin="round"/>
<text x="644.5" y="1434.9" letter-spacing="0.59" font-family='"Liberation Serif", "Noto Serif CJK SC", serif' font-size="20.88" fill="#0a0a0a">FWB</text>
</g>
<g>
<text x="763" y="1358.3" font-family='"Liberation Sans", sans-serif' font-weight="700" font-size="25" fill="#0a0a0a" stroke="#0a0a0a" stroke-width="0.6" stroke-linejoin="round">F</text>
<path d="M901.05 1505.2 V1473.8 M891.46 1473.8 H910.64" fill="none" stroke="#0a0a0a" stroke-width="4.28" stroke-linecap="round"/>
<rect x="881.28" y="1506.68" width="39.54" height="200.52" fill="#ffffff" stroke="#0a0a0a" stroke-width="2.96"/>
<path d="M901.05 1473.8 V1506.97" fill="none" stroke="#0a0a0a" stroke-width="4.28" stroke-linecap="round"/>
<path d="M961.4 1485.7 V1467.5 M951.81 1467.5 H970.99" fill="none" stroke="#0a0a0a" stroke-width="4.28" stroke-linecap="round"/>
<rect x="941.28" y="1487.18" width="40.24" height="220.02" fill="#a5a5aa" stroke="#0a0a0a" stroke-width="2.96"/>
<path d="M961.4 1467.5 V1487.47" fill="none" stroke="#0a0a0a" stroke-width="4.28" stroke-linecap="round"/>
<path d="M1062 1625.5 V1622 M1052.41 1622 H1071.59" fill="none" stroke="#0a0a0a" stroke-width="4.28" stroke-linecap="round"/>
<rect x="1041.98" y="1626.98" width="40.04" height="80.22" fill="#ffffff" stroke="#0a0a0a" stroke-width="2.96"/>
<path d="M1062 1622 V1627.27" fill="none" stroke="#0a0a0a" stroke-width="4.28" stroke-linecap="round"/>
<path d="M1122.85 1612.7 V1611.2 M1113.26 1611.2 H1132.44" fill="none" stroke="#0a0a0a" stroke-width="4.28" stroke-linecap="round"/>
<rect x="1103.68" y="1614.18" width="38.34" height="93.02" fill="#a5a5aa" stroke="#0a0a0a" stroke-width="2.96"/>
<path d="M1122.85 1611.2 V1614.47" fill="none" stroke="#0a0a0a" stroke-width="4.28" stroke-linecap="round"/>
<path d="M1223 1688 V1687.8 M1213.41 1687.8 H1232.59" fill="none" stroke="#0a0a0a" stroke-width="4.28" stroke-linecap="round"/>
<rect x="1202.98" y="1689.48" width="40.04" height="17.72" fill="#ffffff" stroke="#0a0a0a" stroke-width="2.96"/>
<path d="M1223 1687.8 V1689.77" fill="none" stroke="#0a0a0a" stroke-width="4.28" stroke-linecap="round"/>
<path d="M1283.6 1689.2 V1689 M1274.01 1689 H1293.19" fill="none" stroke="#0a0a0a" stroke-width="4.28" stroke-linecap="round"/>
<rect x="1263.48" y="1690.68" width="40.24" height="16.52" fill="#a5a5aa" stroke="#0a0a0a" stroke-width="2.96"/>
<path d="M1283.6 1689 V1690.97" fill="none" stroke="#0a0a0a" stroke-width="4.28" stroke-linecap="round"/>
<path d="M850.3 1384.77 V1707.2 H1335.3" fill="none" stroke="#0a0a0a" stroke-width="3.06" stroke-linejoin="miter" stroke-linecap="butt"/>
<path d="M841.32 1386.3 H849.7" stroke="#0a0a0a" stroke-width="3.06" stroke-linecap="round"/>
<text x="838.67" y="1394.36" text-anchor="end" font-family='"Liberation Sans", sans-serif' font-weight="700" font-size="23.77" fill="#0a0a0a" stroke="#0a0a0a" stroke-width="0.35" stroke-linejoin="round">1.5</text>
<path d="M841.32 1493.27 H849.7" stroke="#0a0a0a" stroke-width="3.06" stroke-linecap="round"/>
<text x="838.67" y="1501.32" text-anchor="end" font-family='"Liberation Sans", sans-serif' font-weight="700" font-size="23.77" fill="#0a0a0a" stroke="#0a0a0a" stroke-width="0.35" stroke-linejoin="round">1.0</text>
<path d="M841.32 1600.23 H849.7" stroke="#0a0a0a" stroke-width="3.06" stroke-linecap="round"/>
<text x="838.67" y="1608.29" text-anchor="end" font-family='"Liberation Sans", sans-serif' font-weight="700" font-size="23.77" fill="#0a0a0a" stroke="#0a0a0a" stroke-width="0.35" stroke-linejoin="round">0.5</text>
<path d="M841.32 1707.2 H849.7" stroke="#0a0a0a" stroke-width="3.06" stroke-linecap="round"/>
<text x="838.67" y="1715.26" text-anchor="end" font-family='"Liberation Sans", sans-serif' font-weight="700" font-size="23.77" fill="#0a0a0a" stroke="#0a0a0a" stroke-width="0.35" stroke-linejoin="round">0.0</text>
<path d="M931 1707.8 V1716.18" stroke="#0a0a0a" stroke-width="3.06" stroke-linecap="round"/>
<text transform="translate(938.14 1739.33) rotate(-45)" text-anchor="end" font-family='"Liberation Serif", "Noto Serif CJK SC", serif' font-weight="700" font-size="21.93" fill="#0a0a0a" stroke="#0a0a0a" stroke-width="0.3" stroke-linejoin="round">TC</text>
<path d="M1092.3 1707.8 V1716.18" stroke="#0a0a0a" stroke-width="3.06" stroke-linecap="round"/>
<text transform="translate(1099.44 1739.33) rotate(-45)" text-anchor="end" font-family='"Liberation Serif", "Noto Serif CJK SC", serif' font-weight="700" font-size="21.93" fill="#0a0a0a" stroke="#0a0a0a" stroke-width="0.3" stroke-linejoin="round">TG</text>
<path d="M1253.3 1707.8 V1716.18" stroke="#0a0a0a" stroke-width="3.06" stroke-linecap="round"/>
<text transform="translate(1260.44 1739.33) rotate(-45)" text-anchor="end" font-family='"Liberation Serif", "Noto Serif CJK SC", serif' font-weight="700" font-size="21.93" fill="#0a0a0a" stroke="#0a0a0a" stroke-width="0.3" stroke-linejoin="round">FFA</text>
<text transform="translate(790.9 1710.5) rotate(-90)" letter-spacing="0" font-family='"Liberation Serif", "Noto Serif CJK SC", serif' font-weight="700" font-size="22.5" fill="#0a0a0a" stroke="#0a0a0a" stroke-width="0.25" stroke-linejoin="round">cord blood concentration (mmol/l)</text>
<text x="1063" y="1604" text-anchor="middle" font-family='"Liberation Serif", "Noto Serif CJK SC", serif' font-size="22.44" fill="#0a0a0a">b</text>
<text x="1119" y="1595.8" text-anchor="middle" font-family='"Liberation Serif", "Noto Serif CJK SC", serif' font-size="22.44" fill="#0a0a0a">a</text>
<rect x="1366.63" y="1399.63" width="35.14" height="12.84" fill="#ffffff" stroke="#0a0a0a" stroke-width="2.86" stroke-linejoin="round"/>
<text x="1420.5" y="1413.9" letter-spacing="0.61" font-family='"Liberation Serif", "Noto Serif CJK SC", serif' font-size="21.62" fill="#0a0a0a">CWB</text>
<rect x="1366.63" y="1436.43" width="35.14" height="12.84" fill="#a5a5aa" stroke="#0a0a0a" stroke-width="2.86" stroke-linejoin="round"/>
<text x="1420.5" y="1450.7" letter-spacing="0.61" font-family='"Liberation Serif", "Noto Serif CJK SC", serif' font-size="21.62" fill="#0a0a0a">FWB</text>
</g>
</svg>
</body></html>
